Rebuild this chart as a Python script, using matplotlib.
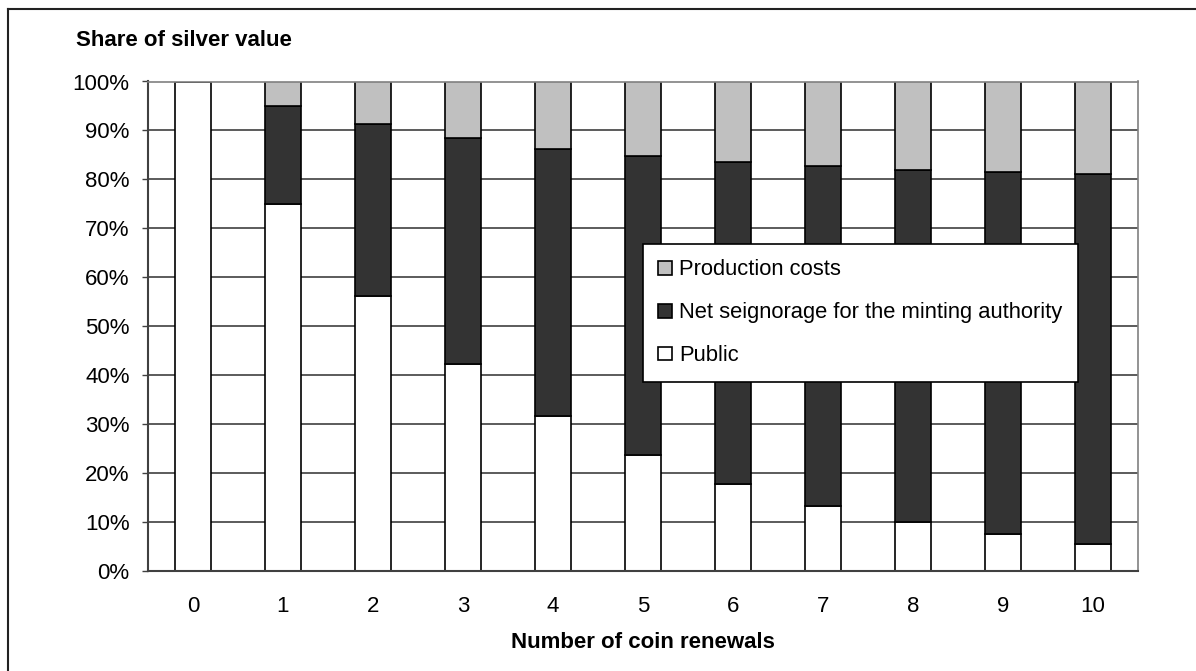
import matplotlib.pyplot as plt
from matplotlib.lines import Line2D

plt.rcParams["font.family"] = ["Liberation Sans", "DejaVu Sans"]

renewals = ["0", "1", "2", "3", "4", "5", "6", "7", "8", "9", "10"]
public = [100, 75, 56.25, 42.2, 31.6, 23.7, 17.8, 13.3, 10.0, 7.5, 5.6]
net_seignorage = [0, 20, 35, 46.2, 54.7, 61.0, 65.8, 69.4, 72.0, 74.0, 75.5]
production = [0, 5, 8.75, 11.6, 13.7, 15.3, 16.4, 17.3, 18.0, 18.5, 18.9]

fig = plt.figure(figsize=(11.96, 6.71), dpi=100)
ax = fig.add_axes([148 / 1196, 100 / 671, 990 / 1196, 489.5 / 671])

x = range(len(renewals))
w = 0.41
bottom2 = [p + n for p, n in zip(public, net_seignorage)]
b_pub = ax.bar(x, public, w, color="white", edgecolor="black", linewidth=1.2, label="Public")
b_net = ax.bar(x, net_seignorage, w, bottom=public, color="#333333", edgecolor="black",
               linewidth=1.2, label="Net seignorage for the minting authority")
b_prod = ax.bar(x, production, w, bottom=bottom2, color="#c0c0c0", edgecolor="black",
                linewidth=1.2, label="Production costs")

ax.set_xlim(-0.5, 10.5)
ax.set_ylim(0, 100)
ax.set_yticks(range(0, 101, 10))
ax.set_yticklabels([f"{v}%" for v in range(0, 101, 10)])
ax.set_xticks(list(x))
ax.set_xticklabels(renewals)
ax.tick_params(axis="y", length=4.3, width=1, labelsize=16, pad=9, color="#404040")
ax.tick_params(axis="x", length=0, labelsize=16, pad=18)

ax.set_axisbelow(True)
ax.yaxis.grid(True, color="#404040", linewidth=1.2)
for s in ["top", "right"]:
    ax.spines[s].set_color("#808080")
    ax.spines[s].set_linewidth(1.2)
for s in ["left", "bottom"]:
    ax.spines[s].set_color("#404040")
    ax.spines[s].set_linewidth(1.5)

ax.set_xlabel("Number of coin renewals", fontsize=16, fontweight="bold", labelpad=11)
fig.text(76 / 1196, 1 - 40 / 671, "Share of silver value", fontsize=16, fontweight="bold",
         ha="left", va="center")

leg = ax.legend(handles=[b_prod, b_net, b_pub], loc="upper left",
                bbox_to_anchor=(643 / 1196, 1 - 244 / 671), bbox_transform=fig.transFigure,
                fontsize=15.8, frameon=True, fancybox=False, framealpha=1,
                edgecolor="black", labelspacing=1.0, handlelength=0.6, handleheight=0.6,
                handletextpad=0.35, borderpad=0.7, borderaxespad=0)
leg.get_frame().set_linewidth(1.2)

# outer frame around the figure
fig.add_artist(Line2D([8 / 1196, 1], [1 - 9 / 671, 1 - 9 / 671], color="#222222", linewidth=1.5))
fig.add_artist(Line2D([8 / 1196, 8 / 1196], [0, 1 - 9 / 671], color="#222222", linewidth=1.5))

fig.savefig("out.png", dpi=100)
